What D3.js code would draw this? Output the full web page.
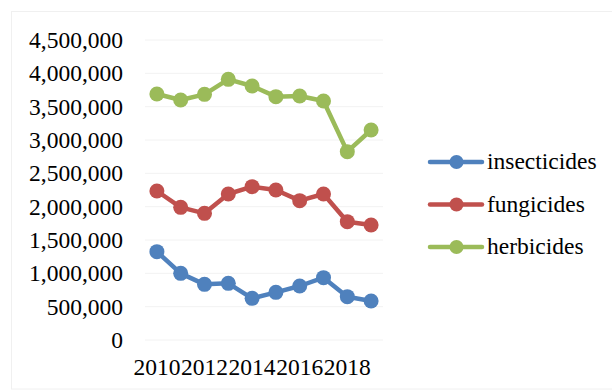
<!DOCTYPE html>
<html><head><meta charset="utf-8">
<script src="https://cdn.jsdelivr.net/npm/d3@7"></script>
<style>body{margin:0;background:#fff}svg{display:block}
svg text{font-family:"Liberation Serif","Times New Roman",Times,"DejaVu Serif",serif;}</style>
</head><body>
<svg id="c" width="612" height="390"></svg>
<script>
const years = [2010,2011,2012,2013,2014,2015,2016,2017,2018,2019];
const insecticides = [1325000,1000000,835000,850000,625000,715000,810000,935000,650000,585000];
const fungicides = [2235000,1990000,1900000,2190000,2300000,2250000,2090000,2190000,1775000,1725000];
const herbicides = [3690000,3600000,3685000,3910000,3810000,3650000,3660000,3585000,2825000,3150000];
const seriesNames = ["insecticides","fungicides","herbicides"];
const seriesColors = ["#4F81BD","#C0504D","#9BBB59"];
const yTicks = [0,500000,1000000,1500000,2000000,2500000,3000000,3500000,4000000,4500000];
const xTickLabels = [2010,2012,2014,2016,2018];

const series = [insecticides,fungicides,herbicides];
const svg = d3.select("#c");
const fs = 23.5;

svg.append("rect").attr("x",11.5).attr("y",11.5).attr("width",612).attr("height",377.5)
  .attr("fill","#fff").attr("stroke","#f0f0f0").attr("stroke-width",1);

const x = d3.scaleBand().domain(years).range([145,383]);
const y = d3.scaleLinear().domain([0,4500000]).range([340,40]);

const grid = svg.append("g");
grid.selectAll("line").data(yTicks).join("line")
  .attr("x1",145).attr("x2",383)
  .attr("y1",d=>y(d)).attr("y2",d=>y(d))
  .attr("stroke","#f2f2f2").attr("stroke-width",1);

const fmt = d3.format(",");
svg.append("g").selectAll("text").data(yTicks).join("text")
  .attr("x",123).attr("y",d=>y(d)+8)
  .attr("text-anchor","end").style("font-size",fs+"px").attr("fill","#000")
  .text(d=>fmt(d));

svg.append("g").selectAll("text").data(xTickLabels).join("text")
  .attr("x",d=>x(d)+x.bandwidth()/2).attr("y",375)
  .attr("text-anchor","middle").style("font-size",fs+"px").attr("fill","#000")
  .text(d=>d);

const line = d3.line().x((d,i)=>x(years[i])+x.bandwidth()/2).y(d=>y(d));
series.forEach((s,k)=>{
  const g = svg.append("g");
  g.append("path").attr("d",line(s)).attr("fill","none")
    .attr("stroke",seriesColors[k]).attr("stroke-width",4.5).attr("stroke-linejoin","round").attr("stroke-linecap","round");
  g.selectAll("circle").data(s).join("circle")
    .attr("cx",(d,i)=>x(years[i])+x.bandwidth()/2).attr("cy",d=>y(d)).attr("r",7.5)
    .attr("fill",seriesColors[k]);
});

const leg = svg.append("g");
seriesNames.forEach((n,k)=>{
  const cy = 162 + k*42.5;
  leg.append("line").attr("x1",430).attr("x2",482).attr("y1",cy).attr("y2",cy)
    .attr("stroke",seriesColors[k]).attr("stroke-width",4.5).attr("stroke-linecap","round");
  leg.append("circle").attr("cx",456.5).attr("cy",cy).attr("r",7).attr("fill",seriesColors[k]);
  leg.append("text").attr("x",487).attr("y",cy+7).style("font-size",fs+"px")
    .attr("fill","#000").text(n);
});
</script>
</body></html>
